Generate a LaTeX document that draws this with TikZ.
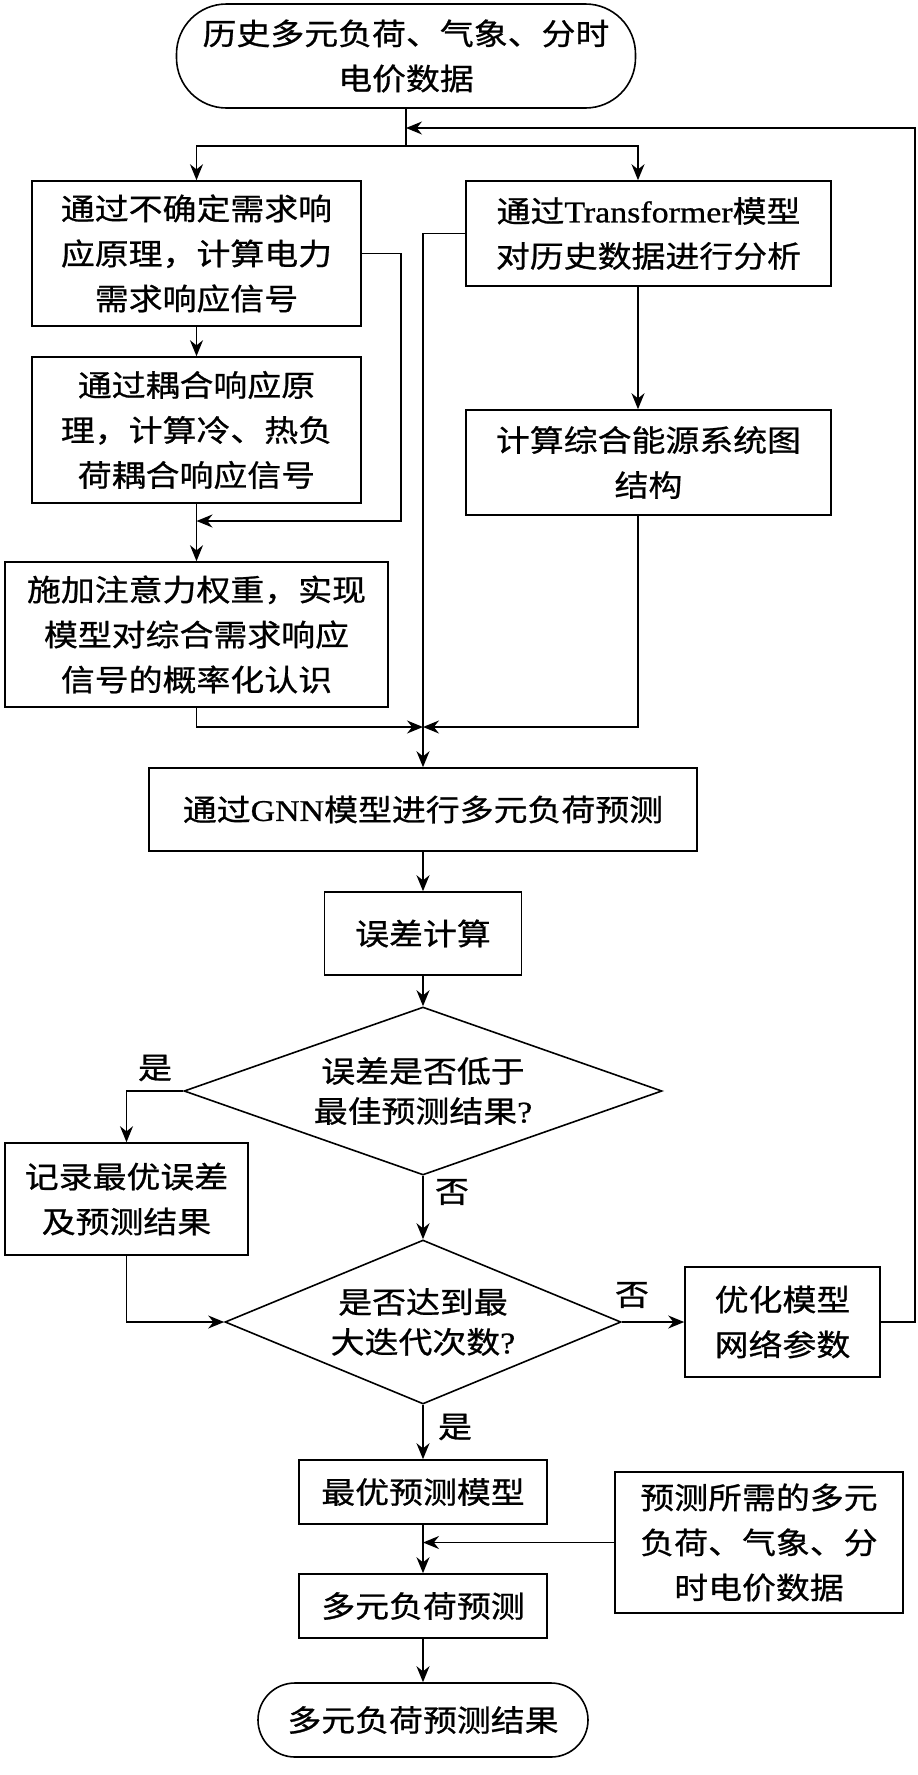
\documentclass[tikz,border=0pt]{standalone}
\usepackage{fontspec}
\setmainfont{Liberation Serif}[FakeStretch=1.13,FakeBold=0.8]
\newfontfamily\cjk{Noto Sans CJK SC}[FakeStretch=1.13,FakeBold=0.8]
\newcommand\latw[1]{{\rmfamily #1}}
\usetikzlibrary{shapes.geometric,arrows.meta,calc}
\begin{document}
\begin{tikzpicture}[x=1pt,y=-1pt,
  box/.style={draw, line width=1.6pt, inner sep=0pt, align=center, font=\cjk\fontsize{30}{45}\selectfont},
  dia/.style={box, diamond, font=\cjk\fontsize{30}{40}\selectfont},
  lbl/.style={inner sep=0pt, font=\cjk\fontsize{30}{40}\selectfont},
  ln/.style={line width=1.6pt},
  arr/.style={ln, -{Stealth[length=16pt,width=13pt]}}]
\fill[white] (0,0) rectangle (918,1775);
\useasboundingbox (0,0) rectangle (918,1775);

\node[box, rounded corners=50pt, minimum width=459pt, minimum height=104pt] (start) at (406,56) {历史多元负荷、气象、分时\\电价数据};
\node[box, minimum width=329pt, minimum height=145pt] (b1) at (196.5,253.5) {通过不确定需求响\\应原理，计算电力\\需求响应信号};
\node[box, minimum width=329pt, minimum height=146pt] (b2) at (196.5,430) {通过耦合响应原\\理，计算冷、热负\\荷耦合响应信号};
\node[box, minimum width=383pt, minimum height=145pt] (b3) at (196.5,634.5) {施加注意力权重，实现\\模型对综合需求响应\\信号的概率化认识};
\node[box, minimum width=365pt, minimum height=105pt] (t1) at (648.5,233.5) {通过\latw{Transformer}模型\\对历史数据进行分析};
\node[box, minimum width=365pt, minimum height=105pt] (t2) at (648.5,462.5) {计算综合能源系统图\\结构};
\node[box, minimum width=548pt, minimum height=83pt] (gnn) at (423,809.5) {通过\latw{GNN}模型进行多元负荷预测};
\node[box, minimum width=197pt, minimum height=83pt] (err) at (423,933.5) {误差计算};
\node[dia, minimum width=478pt, minimum height=168pt, aspect=2.85] (d1) at (423,1091) {误差是否低于\\最佳预测结果\latw{?}};
\node[box, minimum width=243pt, minimum height=112pt] (rec) at (126.5,1199) {记录最优误差\\及预测结果};
\node[dia, minimum width=396pt, minimum height=164pt, aspect=2.41] (d2) at (423,1322) {是否达到最\\大迭代次数\latw{?}};
\node[box, minimum width=195pt, minimum height=110pt] (opt) at (782.5,1322) {优化模型\\网络参数};
\node[box, minimum width=248pt, minimum height=64pt] (best) at (423,1492) {最优预测模型};
\node[box, minimum width=288pt, minimum height=141pt] (need) at (759,1542.5) {预测所需的多元\\负荷、气象、分\\时电价数据};
\node[box, minimum width=248pt, minimum height=64pt] (multi) at (423,1606) {多元负荷预测};
\node[box, rounded corners=37pt, minimum width=330pt, minimum height=74pt] (end) at (423,1720) {多元负荷预测结果};

\node[lbl] (yes1) at (155,1068) {是};
\node[lbl] (no1) at (452,1192) {否};
\node[lbl] (no2) at (632,1295) {否};
\node[lbl] (yes2) at (455,1427) {是};

\coordinate (split) at (406,146);
\coordinate (fb) at (406,128);
\coordinate (cR) at (638,0);
\coordinate (r1) at (401,0);
\coordinate (j1) at (196.5,521);
\coordinate (j2) at (423,727);
\coordinate (fr) at (915,0);

\draw[ln] (start.south) -- (split);
\draw[arr] (split) -| (b1.north);
\draw[arr] (split) -| (cR |- t1.north);
\draw[arr] (b1.east) -| (r1 |- j1) -- (j1);
\draw[arr] (b1.south) -- (b2.north);
\draw[arr] (b2.south) -- (b3.north);
\draw[arr] (b3.south) |- (j2);
\draw[arr] (t1.west) -| (gnn.north);
\draw[arr] (cR |- t1.south) -- (cR |- t2.north);
\draw[arr] (cR |- t2.south) |- (j2);
\draw[arr] (gnn.south) -- (err.north);
\draw[arr] (err.south) -- (d1.north);
\draw[arr] (d1.west) -| (rec.north);
\draw[arr] (d1.south) -- (d2.north);
\draw[arr] (rec.south) |- (d2.west);
\draw[arr] (d2.east) -- (opt.west);
\draw[arr] (opt.east) -| (fr |- fb) -- (fb);
\draw[arr] (d2.south) -- (best.north);
\draw[arr] (best.south) -- (multi.north);
\draw[arr] (need.west) -- (need.west -| multi.north);
\draw[arr] (multi.south) -- (end.north);
\end{tikzpicture}
\end{document}
